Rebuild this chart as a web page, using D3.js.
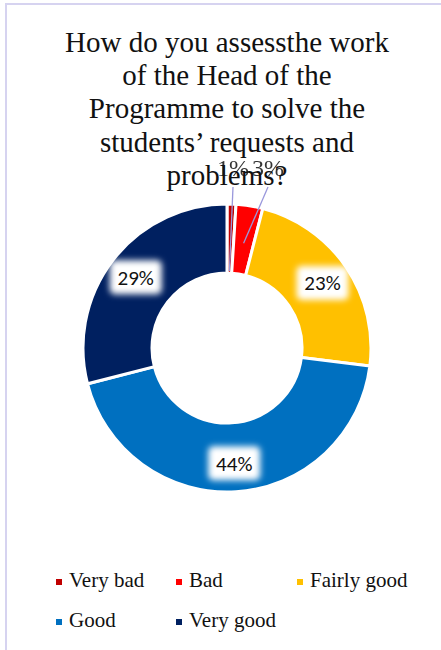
<!DOCTYPE html>
<html>
<head>
<meta charset="utf-8">
<script src="https://cdn.jsdelivr.net/npm/d3@7"></script>
</head>
<body style="margin:0">
<div id="chart"></div>
<script>
// chart data
var categories = ["Very bad", "Bad", "Fairly good", "Good", "Very good"];
var shares = [1, 3, 23, 44, 29];
var colours = ["#C00000", "#FF0000", "#FFC000", "#0070C0", "#002060"];
var titleLines = ["How do you assessthe work", "of the Head of the", "Programme to solve the", "students\u2019 requests and", "problems?"];

var SERIF = "'Liberation Serif', monospace";
var SANS = "'Carlito', monospace";

var width = 441, height = 650;
var cx = 227, cy = 348, outerR = 144, innerR = 75;

var svg = d3.select("#chart").append("svg")
    .attr("width", width)
    .attr("height", height)
    .style("display", "block");

// soft white glow behind the data labels
var defs = svg.append("defs");
defs.append("filter")
    .attr("id", "glow")
    .attr("x", "-50%").attr("y", "-50%")
    .attr("width", "200%").attr("height", "200%")
  .append("feGaussianBlur")
    .attr("stdDeviation", 3);

// frame
svg.append("line")
    .attr("x1", 5).attr("x2", width)
    .attr("y1", 4).attr("y2", 4)
    .attr("stroke", "#d6d3f0").attr("stroke-width", 2);
svg.append("line")
    .attr("x1", 6).attr("x2", 6)
    .attr("y1", 3).attr("y2", height)
    .attr("stroke", "#d6d3f0").attr("stroke-width", 2);

// title, one text per line
svg.selectAll(".title")
    .data(titleLines)
    .enter().append("text")
    .attr("class", "title")
    .attr("x", 227)
    .attr("y", function(d, i) { return 52 + i * 33.2; })
    .attr("text-anchor", "middle")
    .attr("font-size", 29)
    .attr("fill", "#111")
    .style("font-family", SERIF)
    .text(function(d) { return d; });

var pie = d3.pie().sort(null).value(function(d) { return d; });
var arcs = pie(shares);

var arc = d3.arc().innerRadius(innerR).outerRadius(outerR);
var labelArc = d3.arc().innerRadius((innerR + outerR) / 2 + 6).outerRadius((innerR + outerR) / 2 + 6);

var g = svg.append("g")
    .attr("transform", "translate(" + cx + "," + cy + ")");

g.selectAll(".slice")
    .data(arcs)
    .enter().append("path")
    .attr("class", "slice")
    .attr("d", arc)
    .attr("fill", function(d, i) { return colours[i]; })
    .attr("stroke", "#fff")
    .attr("stroke-width", 3);

// labels inside the big slices
var big = arcs.filter(function(d) { return d.value >= 10; });
var labels = g.selectAll(".lbl")
    .data(big)
    .enter().append("g")
    .attr("class", "lbl")
    .attr("transform", function(d) {
        var c = labelArc.centroid(d);
        return "translate(" + c[0] + "," + c[1] + ")";
    });
labels.append("rect")
    .attr("x", -26).attr("y", -17)
    .attr("width", 52).attr("height", 34)
    .attr("rx", 5)
    .attr("fill", "#fff")
    .attr("filter", "url(#glow)");
labels.append("text")
    .attr("text-anchor", "middle")
    .attr("dy", "0.35em")
    .attr("font-size", 21)
    .attr("fill", "#111")
    .style("font-family", SANS)
    .text(function(d) { return d.value + "%"; });

// small slices: labels above the ring with leader lines
var small = arcs.filter(function(d) { return d.value < 10; });
var smallPos = [[6, -181], [41, -181]];
small.forEach(function(d, i) {
    var p = smallPos[i];
    var mid = (d.startAngle + d.endAngle) / 2;
    var r = i === 0 ? innerR + 2 : outerR - 38;
    var ex = Math.sin(mid) * r, ey = -Math.cos(mid) * r;
    g.append("line")
        .attr("x1", p[0]).attr("y1", p[1] + 20)
        .attr("x2", ex).attr("y2", ey)
        .attr("stroke", "#9a98dc").attr("stroke-width", 1.3);
    g.append("text")
        .attr("x", p[0]).attr("y", p[1])
        .attr("text-anchor", "middle")
        .attr("dy", "0.36em")
        .attr("font-size", 24)
        .attr("fill", "#111")
        .attr("opacity", 0.85)
        .style("font-family", SERIF)
        .text(d.value + "%");
});

// legend
var legendPos = [[56, 587], [176, 587], [297, 587], [56, 627], [176, 627]];
var legend = svg.selectAll(".legend")
    .data(categories)
    .enter().append("g")
    .attr("class", "legend")
    .attr("transform", function(d, i) {
        return "translate(" + legendPos[i][0] + "," + legendPos[i][1] + ")";
    });
legend.append("rect")
    .attr("x", 0).attr("y", -8)
    .attr("width", 6).attr("height", 6)
    .attr("fill", function(d, i) { return colours[i]; });
legend.append("text")
    .attr("x", 13)
    .attr("font-size", 21)
    .attr("fill", "#111")
    .style("font-family", SERIF)
    .text(function(d) { return d; });
</script>
</body>
</html>
